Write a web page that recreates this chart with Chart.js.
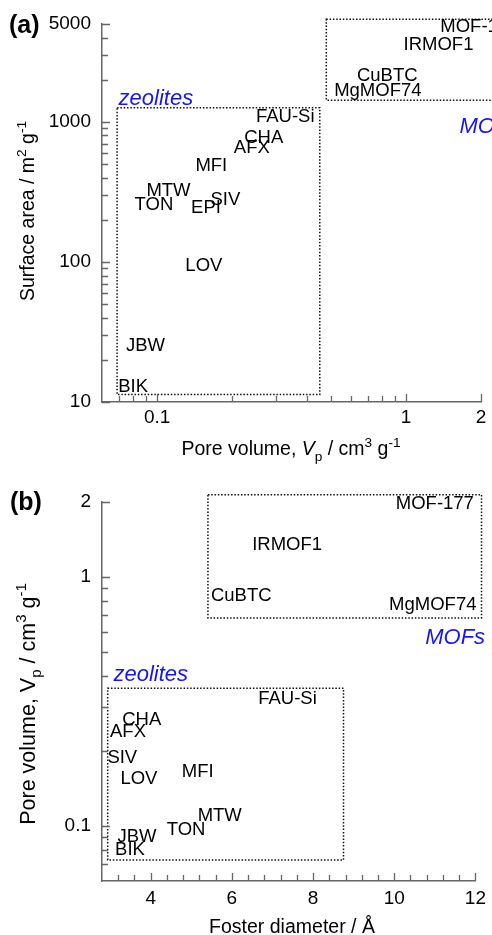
<!DOCTYPE html>
<html><head><meta charset="utf-8">
<script src="https://cdn.jsdelivr.net/npm/chart.js@4/dist/chart.umd.min.js"></script>
<style>
html,body{margin:0;padding:0;background:#fff;width:492px;height:935px;overflow:hidden}
canvas{position:absolute;left:0}
#ca{top:0}
#cb{top:470px}
</style></head><body>
<canvas id="ca" width="492" height="470"></canvas>
<canvas id="cb" width="492" height="465"></canvas>
<script>
// ---------- Panel (a): surface area vs pore volume ----------
const namesA = ['MOF-177','IRMOF1','CuBTC','MgMOF74','FAU-Si','CHA','AFX','MFI','MTW','TON','EPI','SIV','LOV','JBW','BIK'];
const poreVolumeA = [1.97, 1.35, 0.84, 0.77, 0.327, 0.268, 0.24, 0.165, 0.111, 0.097, 0.157, 0.188, 0.154, 0.0897, 0.080];
const surfaceAreaA = [4770, 3530, 2120, 1656, 1086, 765, 649, 485, 322, 254, 242, 276, 94, 25, 12.8];

// ---------- Panel (b): pore volume vs Foster diameter ----------
const namesB = ['MOF-177','IRMOF1','CuBTC','MgMOF74','FAU-Si','CHA','AFX','SIV','LOV','MFI','MTW','TON','JBW','BIK'];
const fosterDiameterB = [11.0, 7.36, 6.23, 10.95, 7.37, 3.78, 3.44, 3.30, 3.71, 5.16, 5.70, 4.87, 3.66, 3.49];
const poreVolumeB = [1.97, 1.35, 0.84, 0.774, 0.324, 0.266, 0.239, 0.187, 0.154, 0.165, 0.11, 0.0967, 0.0903, 0.0798];

// ---------- tick values ----------
const xMajorA = [0.1, 1, 2];
const xMinorA = [0.07, 0.08, 0.09, 0.2, 0.3, 0.4, 0.5, 0.6, 0.7, 0.8, 0.9];
const yMajorA = [10, 100, 1000, 5000];
const yMinorA = [20, 30, 40, 50, 60, 70, 80, 90, 200, 300, 400, 500, 600, 700, 800, 900, 2000, 3000, 4000];
const xMajorB = [4, 6, 8, 10, 12];
const xMinorB = [3.2, 3.6, 4.4, 4.8, 5.2, 5.6, 6.4, 6.8, 7.2, 7.6, 8.4, 8.8, 9.2, 9.6, 10.4, 10.8, 11.2, 11.6];
const yMajorB = [0.1, 1, 2];
const yMinorB = [0.07, 0.08, 0.09, 0.2, 0.3, 0.4, 0.5, 0.6, 0.7, 0.8, 0.9];

// ---------- group boxes and group labels (data units) ----------
const boxesA = [
  {x0: 0.069, x1: 0.45, y0: 11.3, y1: 1260},
  {x0: 0.478, x1: 3.0, y0: 1429, y1: 5400}
];
const groupLabelsA = [
  {text: 'zeolites', x: 0.0988, y: 1469},
  {text: 'MOFs', x: 2.16, y: 921}
];
const boxesB = [
  {x0: 5.41, x1: 12.15, y0: 0.684, y1: 2.14},
  {x0: 2.94, x1: 8.75, y0: 0.0728, y1: 0.357}
];
const groupLabelsB = [
  {text: 'zeolites', x: 4.0, y: 0.404},
  {text: 'MOFs', x: 11.5, y: 0.568}
];

const FONT = "'Liberation Sans', Arial, sans-serif";
Chart.defaults.font.family = FONT;
Chart.defaults.color = '#000';
const AXIS = '#666';

function axisCfg(type, min, max, major, minor, position, padding, fit) {
  return {
    type, min, max, position, bounds: 'data',
    afterBuildTicks: s => {
      s.ticks = major.concat(minor).sort((a, b) => a - b).map(v => ({value: v, big: major.includes(v)}));
    },
    ticks: {
      autoSkip: false, maxRotation: 0, minRotation: 0, padding,
      color: '#000', font: {family: FONT, size: 19},
      callback: v => major.includes(v) ? String(v) : ''
    },
    grid: {display: false, drawTicks: false},
    border: {display: true, color: AXIS, width: 1.5},
    afterFit: fit
  };
}

const inTicks = {
  id: 'inTicks',
  afterDraw(chart) {
    const ctx = chart.ctx, ca = chart.chartArea;
    const xs = chart.scales.x, ys = chart.scales.y;
    ctx.save();
    ctx.strokeStyle = AXIS; ctx.lineWidth = 1.3;
    ctx.beginPath();
    xs.ticks.forEach(t => {
      const p = Math.round(xs.getPixelForValue(t.value)) + 0.5;
      const l = t.big ? 8 : 6;
      ctx.moveTo(p, ca.bottom); ctx.lineTo(p, ca.bottom - l);
    });
    ys.ticks.forEach(t => {
      const p = Math.round(ys.getPixelForValue(t.value)) + 0.5;
      const l = t.big ? 8 : 6;
      ctx.moveTo(ca.left, p); ctx.lineTo(ca.left + l, p);
    });
    ctx.stroke();
    ctx.restore();
  }
};

const decor = {
  id: 'decor',
  afterDatasetsDraw(chart, args, opts) {
    const ctx = chart.ctx;
    const xs = chart.scales.x, ys = chart.scales.y;
    ctx.save();
    // dotted boxes
    ctx.strokeStyle = '#111'; ctx.lineWidth = 1.5; ctx.setLineDash([1.5, 1.8]);
    opts.boxes.forEach(b => {
      const l = xs.getPixelForValue(b.x0), r = xs.getPixelForValue(b.x1);
      const t = ys.getPixelForValue(b.y1), btm = ys.getPixelForValue(b.y0);
      ctx.strokeRect(l, t, r - l, btm - t);
    });
    ctx.setLineDash([]);
    // group labels
    ctx.fillStyle = '#1414ff';
    ctx.font = 'italic 22px ' + FONT;
    ctx.textAlign = 'center'; ctx.textBaseline = 'middle';
    opts.groups.forEach(g => ctx.fillText(g.text, xs.getPixelForValue(g.x), ys.getPixelForValue(g.y)));
    // material labels
    ctx.fillStyle = '#000';
    ctx.font = '18.5px ' + FONT;
    const meta = chart.getDatasetMeta(0);
    const names = chart.data.datasets[0].names;
    meta.data.forEach((el, i) => ctx.fillText(names[i], el.x, el.y));
    ctx.restore();
  }
};

function drawRich(ctx, segs, size, cx, cy, rot) {
  ctx.save();
  ctx.translate(cx, cy);
  if (rot) ctx.rotate(-Math.PI / 2);
  ctx.textBaseline = 'alphabetic'; ctx.textAlign = 'left'; ctx.fillStyle = '#000';
  const fontOf = s => (s.italic ? 'italic ' : '') + ((s.sup || s.sub) ? size * 0.7 : size) + 'px ' + FONT;
  let total = 0;
  segs.forEach(s => { ctx.font = fontOf(s); total += ctx.measureText(s.t).width; });
  let x = -total / 2;
  segs.forEach(s => {
    ctx.font = fontOf(s);
    const dy = s.sup ? -size * 0.42 : (s.sub ? size * 0.3 : 0);
    ctx.fillText(s.t, x, dy);
    x += ctx.measureText(s.t).width;
  });
  ctx.restore();
}

const titles = {
  id: 'titles',
  afterDraw(chart, args, opts) {
    const ctx = chart.ctx;
    drawRich(ctx, opts.xTitle, 19.5, opts.xPos[0], opts.xPos[1], false);
    drawRich(ctx, opts.yTitle, opts.ySize, opts.yPos[0], opts.yPos[1], true);
    ctx.save();
    ctx.font = 'bold 25px ' + FONT; ctx.fillStyle = '#000';
    ctx.textAlign = 'left'; ctx.textBaseline = 'alphabetic';
    ctx.fillText(opts.panel, opts.panelPos[0], opts.panelPos[1]);
    ctx.restore();
  }
};

const poreTitleX = [{t: 'Pore volume, '}, {t: 'V', italic: true}, {t: 'p', sub: true}, {t: ' / cm'}, {t: '3', sup: true}, {t: ' g'}, {t: '-1', sup: true}];
const poreTitleY = [{t: 'Pore volume, V'}, {t: 'p', sub: true}, {t: ' / cm'}, {t: '3', sup: true}, {t: ' g'}, {t: '-1', sup: true}];
const surfTitle = [{t: 'Surface area / m'}, {t: '2', sup: true}, {t: ' g'}, {t: '-1', sup: true}];
const fosterTitle = [{t: 'Foster diameter / Å'}];

function dataset(xs, ys, names) {
  return {
    data: xs.map((x, i) => ({x, y: ys[i]})),
    names,
    pointRadius: 0, pointHoverRadius: 0, showLine: false, clip: false
  };
}

new Chart(document.getElementById('ca'), {
  type: 'scatter',
  data: {datasets: [dataset(poreVolumeA, surfaceAreaA, namesA)]},
  options: {
    responsive: false, animation: false, events: [],
    layout: {padding: {top: 24, right: 11, left: 0, bottom: 0}},
    plugins: {
      legend: {display: false}, tooltip: {enabled: false},
      decor: {boxes: boxesA, groups: groupLabelsA},
      titles: {xTitle: poreTitleX, yTitle: surfTitle, ySize: 19.5, xPos: [291, 455], yPos: [34, 211], panel: '(a)', panelPos: [9, 33]}
    },
    scales: {
      x: axisCfg('logarithmic', 0.06, 2, xMajorA, xMinorA, 'bottom', 4, s => { s.height = 68; }),
      y: axisCfg('logarithmic', 10, 5000, yMajorA, yMinorA, 'left', 11, s => { s.width = 102; })
    }
  },
  plugins: [inTicks, decor, titles]
});

new Chart(document.getElementById('cb'), {
  type: 'scatter',
  data: {datasets: [dataset(fosterDiameterB, poreVolumeB, namesB)]},
  options: {
    responsive: false, animation: false, events: [],
    layout: {padding: {top: 32, right: 11, left: 0, bottom: 0}},
    plugins: {
      legend: {display: false}, tooltip: {enabled: false},
      decor: {boxes: boxesB, groups: groupLabelsB},
      titles: {xTitle: fosterTitle, yTitle: poreTitleY, ySize: 21.5, xPos: [292, 463], yPos: [35, 234], panel: '(b)', panelPos: [10, 40]}
    },
    scales: {
      x: axisCfg('linear', 2.8, 12, xMajorB, xMinorB, 'bottom', 6, s => { s.height = 54; }),
      y: axisCfg('logarithmic', 0.06, 2, yMajorB, yMinorB, 'left', 11, s => { s.width = 102; })
    }
  },
  plugins: [inTicks, decor, titles]
});
</script>
</body></html>
